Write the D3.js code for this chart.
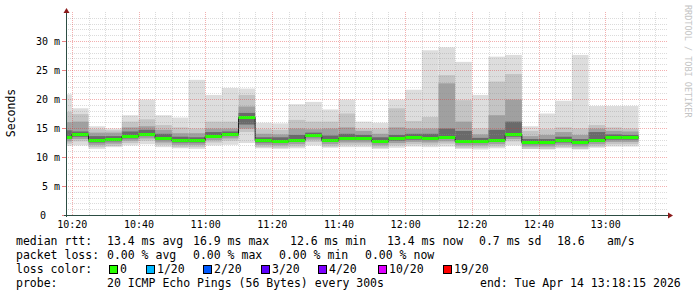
<!DOCTYPE html>
<html>
<head>
<meta charset="utf-8">
<script src="https://cdn.jsdelivr.net/npm/d3@7"></script>
<style>
body { margin: 0; background: #fff; }
text { font-family: "DejaVu Sans Mono", monospace; }
</style>
</head>
<body>
<svg width="697" height="297"></svg>
<script>
// 5 minute bins, end time of each bin
var binEnds = ["10:20","10:25","10:30","10:35","10:40","10:45","10:50","10:55",
  "11:00","11:05","11:10","11:15","11:20","11:25","11:30","11:35","11:40","11:45",
  "11:50","11:55","12:00","12:05","12:10","12:15","12:20","12:25","12:30","12:35",
  "12:40","12:45","12:50","12:55","13:00","13:05","13:10"];

// smoke: spread of the 20 pings in each bin (ms), outer to inner
var pingMax = [20.8,18.4,15.3,14.9,17.2,19.9,17.2,16.8,23.3,20.7,21.9,21.8,15.9,15.8,19.1,19.5,18.2,19.9,
  16.1,15.9,19.9,21.6,28.4,28.9,26.4,20.7,27.3,27.6,15.3,17.5,19.7,27.6,18.8,18.8,18.8];
var pingHi1 = [17.8,17.4,14.8,14.6,16.1,16.5,15.5,15.1,14.9,16.1,16.1,20.7,14.8,14.7,16.4,16.1,16.1,17.5,
  14.9,14.9,18.4,16.2,16.9,24.1,19.8,14.9,23.0,24.3,14.5,14.8,15.1,14.9,15.5,15.1,14.9];
var pingHi2 = [16.0,16.1,14.2,14.2,15.1,15.3,14.7,14.1,14.1,14.9,14.9,18.7,14.0,13.9,14.9,14.8,14.9,15.1,
  14.5,14.0,15.1,14.9,14.9,22.7,16.1,13.9,17.2,19.9,13.6,13.8,14.3,13.8,14.9,14.5,14.4];
var pingHi3 = [14.6,14.4,13.6,13.6,14.4,14.7,14.0,13.5,13.4,14.3,14.4,17.6,13.4,13.4,13.8,14.2,13.7,14.0,
  13.8,13.4,13.8,14.0,14.0,14.9,14.5,13.3,14.7,16.1,13.1,13.1,13.5,13.1,14.3,13.9,13.8];
var pingMed = [13.5,13.9,12.9,13.1,13.6,14.0,13.3,12.9,12.9,13.7,14.0,16.9,12.9,12.8,13.0,13.8,13.0,13.3,
  13.3,12.8,13.2,13.4,13.3,13.5,12.8,12.8,13.0,13.9,12.6,12.6,12.9,12.6,13.0,13.4,13.4];
var pingLo3 = [13.1,13.5,12.5,12.7,13.2,13.6,12.9,12.5,12.5,13.3,13.6,15.6,12.5,12.4,12.6,13.4,12.6,12.9,
  12.9,12.4,12.8,13.0,12.9,13.1,12.4,12.4,12.6,13.5,12.2,12.2,12.5,12.2,12.6,13.0,13.0];
var pingLo2 = [12.7,13.1,12.1,12.3,12.8,13.2,12.5,12.1,12.1,12.9,13.2,14.9,12.1,12.0,12.2,13.0,12.2,12.5,
  12.5,12.0,12.4,12.6,12.5,12.7,12.0,12.0,12.2,13.1,11.8,11.8,12.1,11.8,12.2,12.6,12.6];
var pingLo1 = [12.3,12.7,11.7,11.9,12.4,12.8,12.1,11.7,11.7,12.5,12.8,14.3,11.7,11.6,11.8,12.6,11.8,12.1,
  12.1,11.6,12.0,12.2,12.1,12.3,11.6,11.6,11.8,12.7,11.4,11.4,11.7,11.4,11.8,12.2,12.2];
var pingMin = [11.9,12.0,11.4,11.7,12.0,12.2,11.7,11.5,11.4,12.0,12.1,12.4,11.5,11.4,11.5,12.0,11.6,11.7,
  11.7,11.4,11.6,11.8,11.7,11.8,11.4,11.3,11.5,12.0,11.4,11.3,11.5,11.3,11.6,11.8,11.8];

var yTicks = [0, 5, 10, 15, 20, 25, 30];
var yTickLabels = ["0", "5 m", "10 m", "15 m", "20 m", "25 m", "30 m"];

var lossLabels = ["0", "1/20", "2/20", "3/20", "4/20", "10/20", "19/20"];
var lossColors = ["#26ff00", "#00b8ff", "#0059ff", "#5e00ff", "#7e00ff", "#dd00ff", "#ff0000"];

var day = "2026-04-14 ";
var parseT = d3.timeParse("%Y-%m-%d %H:%M:%S");
var tStart = parseT(day + "10:18:15"),
    tEnd = parseT(day + "13:18:15");
var ends = binEnds.map(function(s) { return parseT(day + s + ":00"); });
var starts = ends.map(function(d) { return d3.timeMinute.offset(d, -5); });

var pLeft = 66, pRight = 666, pTop = 12, pBottom = 215;

var x = d3.scaleTime().domain([tStart, tEnd]).range([pLeft, pRight]);
var y = d3.scaleLinear().domain([0, 35]).range([pBottom, pTop]);

var svg = d3.select("svg");
svg.append("rect").attr("width", 697).attr("height", 297).attr("fill", "#fff");

svg.append("clipPath").attr("id", "plot")
  .append("rect").attr("x", pLeft).attr("y", pTop).attr("width", pRight - pLeft).attr("height", pBottom - pTop);

var plot = svg.append("g").attr("clip-path", "url(#plot)");

var bands = [
  {lo: pingMin, hi: pingMax, color: "#dddddd"},
  {lo: pingLo1, hi: pingHi1, color: "#c4c4c4"},
  {lo: pingLo2, hi: pingHi2, color: "#a0a0a0"},
  {lo: pingLo3, hi: pingHi3, color: "#6a6a6a"}
];

bands.forEach(function(b) {
  plot.append("g").selectAll("rect")
    .data(ends)
    .enter().append("rect")
      .attr("x", function(d, i) { return x(starts[i]); })
      .attr("width", function(d, i) { return x(d) - x(starts[i]); })
      .attr("y", function(d, i) { return y(b.hi[i]); })
      .attr("height", function(d, i) { return y(b.lo[i]) - y(b.hi[i]); })
      .attr("fill", b.color);
});

// grid (on top of the smoke, like rrdtool)
var grid = svg.append("g").attr("fill", "none").attr("stroke-dasharray", "1,1");
d3.range(1, 35).forEach(function(v) {
  grid.append("line")
    .attr("x1", pLeft).attr("x2", pRight + 1)
    .attr("y1", Math.round(y(v)) + 0.5).attr("y2", Math.round(y(v)) + 0.5)
    .attr("stroke", v % 5 ? "rgba(143,143,143,0.32)" : "rgba(222,48,48,0.38)");
});
x.ticks(d3.timeMinute.every(5)).forEach(function(t) {
  var major = t.getMinutes() % 20 === 0;
  grid.append("line")
    .attr("x1", Math.round(x(t)) + 0.5).attr("x2", Math.round(x(t)) + 0.5)
    .attr("y1", pTop).attr("y2", pBottom)
    .attr("stroke", major ? "rgba(222,48,48,0.38)" : "rgba(143,143,143,0.32)");
});

// median
var medLine = d3.line()
  .x(function(d) { return x(d[0]); })
  .y(function(d) { return Math.round(y(d[1])) + 0.5; })
  .curve(d3.curveStepAfter);
var medPts = ends.map(function(d, i) { return [starts[i], pingMed[i]]; });
medPts.push([ends[ends.length - 1], pingMed[pingMed.length - 1]]);
plot.append("path")
  .attr("d", medLine(medPts))
  .attr("fill", "none")
  .attr("stroke", "#202020")
  .attr("stroke-width", 1);

plot.append("g").selectAll("rect")
  .data(ends)
  .enter().append("rect")
    .attr("x", function(d, i) { return x(starts[i]); })
    .attr("width", function(d, i) { return x(d) - x(starts[i]); })
    .attr("y", function(d, i) { return Math.round(y(pingMed[i])) - 1; })
    .attr("height", 3)
    .attr("fill", lossColors[0]);

// axes
var yAxis = svg.append("g")
  .attr("transform", "translate(" + pLeft + ",0)")
  .call(d3.axisLeft(y).tickValues(yTicks)
    .tickFormat(function(d, i) { return yTickLabels[i]; })
    .tickSize(0).tickPadding(6));
yAxis.select(".domain").remove();
yAxis.selectAll("text")
  .attr("font-family", "DejaVu Sans Mono").attr("font-size", 10).attr("fill", "#000")
  .filter(function(d) { return d === 0; }).attr("x", -20);

var xAxis = svg.append("g")
  .attr("transform", "translate(0," + pBottom + ")")
  .call(d3.axisBottom(x).ticks(d3.timeMinute.every(20))
    .tickFormat(d3.timeFormat("%H:%M"))
    .tickSize(0).tickPadding(6));
xAxis.select(".domain").remove();
xAxis.selectAll("text")
  .attr("font-family", "DejaVu Sans Mono").attr("font-size", 10).attr("fill", "#000");

// tick marks
yTicks.forEach(function(v) {
  svg.append("line").attr("x1", pLeft - 4).attr("x2", pLeft)
    .attr("y1", Math.round(y(v)) + 0.5).attr("y2", Math.round(y(v)) + 0.5)
    .attr("stroke", "#de3030").attr("stroke-opacity", 0.6);
});

svg.append("line").attr("x1", pLeft + 0.5).attr("x2", pLeft + 0.5)
  .attr("y1", pTop - 2).attr("y2", pBottom + 2)
  .attr("stroke", "#2c4d43");
svg.append("line").attr("x1", pLeft - 2).attr("x2", pRight + 4)
  .attr("y1", pBottom + 0.5).attr("y2", pBottom + 0.5)
  .attr("stroke", "#2c4d43");
svg.append("path").attr("d", "M63.5,13L66.5,8L69.5,13Z").attr("fill", "#8b1a1a");
svg.append("path").attr("d", "M668,212.5L673,215.5L668,218.5Z").attr("fill", "#8b1a1a");

// y title
svg.append("text")
  .attr("transform", "translate(15,113) rotate(-90)")
  .attr("text-anchor", "middle")
  .attr("font-size", 11.5)
  .text("Seconds");

// watermark
svg.append("text")
  .attr("transform", "translate(685,5) rotate(90)")
  .attr("font-size", 8.5)
  .attr("fill", "#c4c4c4")
  .text("RRDTOOL / TOBI OETIKER");

// legend
var legend = svg.append("g").attr("font-size", 11.5).attr("fill", "#000");
function put(s, px, py) {
  legend.append("text").attr("x", px).attr("y", py).style("white-space", "pre").text(s);
}
put("median rtt:", 16, 245);
put("13.4 ms avg", 107, 245);
put("16.9 ms max", 193, 245);
put("12.6 ms min", 290, 245);
put("13.4 ms now", 387, 245);
put("0.7 ms sd", 479, 245);
put("18.6", 557, 245);
put("am/s", 607, 245);

put("packet loss:", 16, 259);
put("0.00 % avg", 107, 259);
put("0.00 % max", 193, 259);
put("0.00 % min", 279, 259);
put("0.00 % now", 365, 259);

put("loss color:", 16, 273);
var boxX = [109, 146, 203, 261, 318, 378, 443];
lossLabels.forEach(function(l, i) {
  legend.append("rect")
    .attr("x", boxX[i] + 0.5).attr("y", 265.5)
    .attr("width", 8).attr("height", 8)
    .attr("fill", lossColors[i]).attr("stroke", "#000");
  put(l, boxX[i] + 11, 273);
});

put("probe:", 16, 287);
put("20 ICMP Echo Pings (56 Bytes) every 300s", 107, 287);
put("end: Tue Apr 14 13:18:15 2026", 480, 287);
</script>
</body>
</html>
